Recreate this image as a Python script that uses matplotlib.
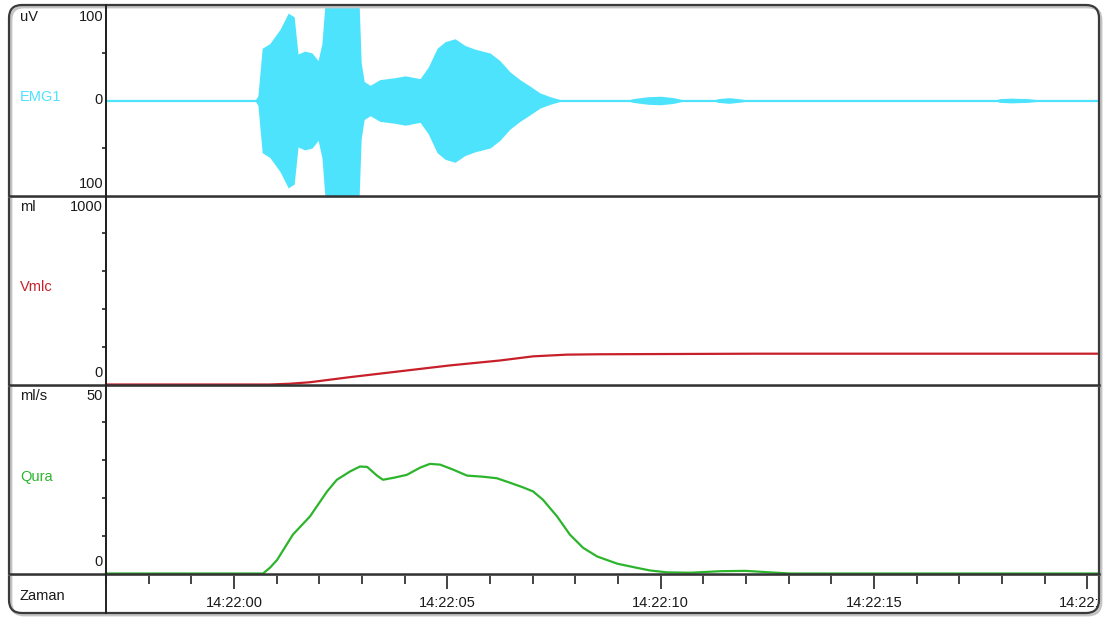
import datetime as dt

import matplotlib
matplotlib.use("Agg")
import matplotlib.pyplot as plt
from matplotlib.patches import FancyBboxPatch
from matplotlib.lines import Line2D
from matplotlib.transforms import IdentityTransform, Bbox, blended_transform_factory, offset_copy
from matplotlib.ticker import FixedLocator, MultipleLocator

# ---------------------------------------------------------------- data
# time axis: seconds relative to 14:22:00
start_clock = "14:22:00"
t_min, t_max = -3.0, 20.27

# EMG1 envelope (uV), drawn symmetric about zero
emg_t = [-3.0, 0.49, 0.56, 0.66, 0.84, 1.08, 1.27, 1.41, 1.50, 1.66, 1.83, 1.97,
         2.06, 2.18, 2.91, 2.98, 3.05, 3.19, 3.42, 3.77, 4.01, 4.36, 4.55, 4.76,
         4.95, 5.18, 5.41, 5.65, 6.00, 6.23, 6.47, 6.70, 6.94, 7.17, 7.41, 7.64,
         7.90, 9.20, 9.35, 9.70, 10.00, 10.30, 10.50, 10.70, 11.20, 11.35, 11.60,
         11.90, 12.05, 17.80, 17.95, 18.20, 18.60, 18.80, 18.95, 20.27]
emg_amp = [0, 0, 5, 55, 60, 75, 92, 88, 49, 52, 50, 42,
           60, 130, 130, 40, 20, 16, 22, 24, 26, 23, 35, 55,
           62, 65, 58, 54, 50, 42, 30, 22, 15, 8, 4, 1,
           0, 0, 2, 4, 4.5, 3, 1, 0, 0, 2, 3,
           1.5, 0, 0, 2, 2.5, 2, 1, 0, 0]

# Vmic volume (ml)
vmic_t = [-3.0, 0.38, 0.84, 1.31, 1.78, 2.72, 3.89, 5.06, 6.23, 7.01, 7.80, 8.58, 12.26, 20.27]
vmic_ml = [0, 0, 0, 4, 12, 39, 70, 101, 127, 149, 158, 160, 163, 163]

# Qura flow (ml/s)
qura_t = [-3.0, 0.68, 0.84, 1.01, 1.38, 1.78, 2.18, 2.41, 2.72, 2.95, 3.12, 3.35,
          3.49, 3.73, 4.05, 4.36, 4.59, 4.83, 5.13, 5.46, 5.84, 6.16, 6.47, 6.77,
          7.01, 7.24, 7.57, 7.87, 8.18, 8.51, 8.98, 9.44, 9.75, 10.15, 10.69,
          11.39, 11.98, 12.56, 13.03, 20.27]
qura_flow = [0, 0, 1.5, 3.6, 10.3, 15.1, 21.7, 24.8, 27.0, 28.3, 28.2, 25.9,
             24.8, 25.3, 26.1, 28.0, 29.0, 28.8, 27.5, 25.9, 25.6, 25.2, 24.0, 22.8,
             21.7, 19.5, 15.1, 10.3, 6.8, 4.5, 2.6, 1.5, 0.8, 0.3, 0.2,
             0.6, 0.7, 0.3, 0.0, 0.0]

channel_names = ["EMG1", "Vmlc", "Qura"]
channel_units = ["uV", "ml", "ml/s"]
channel_colors = ["#4ee3fd", "#c8202a", "#2cb52c"]
y_limits = [(-100, 100), (0, 1000), (0, 50)]
y_labels = [(["100", "0", "100"], [100, 0, -100]),
            (["1000", "0"], [1000, 0]),
            (["50", "0"], [50, 0])]
y_minor = [[-50, 50], [200, 400, 600, 800], [10, 20, 30, 40]]
major_step, minor_step = 5, 1

# ---------------------------------------------------------------- layout
W, H = 1105, 621
fig = plt.figure(figsize=(W / 100, H / 100), dpi=100)
fig.patch.set_facecolor("white")

FONT = ["Liberation Sans Narrow", "Liberation Sans", "DejaVu Sans"]
FS = 10.5
TXT = "#1a1a1a"

x_left, x_right = 106, 1099
panel_edges = [5.5, 195.5, 384.5, 573.5]


def fig_box(top, bottom):
    return [x_left / W, 1 - bottom / H, (x_right - x_left) / W, (bottom - top) / H]


axes = []
for i in range(3):
    ax = fig.add_axes(fig_box(panel_edges[i], panel_edges[i + 1]))
    ax.set_xlim(t_min, t_max)
    ax.set_ylim(*y_limits[i])
    ax.set_facecolor("none")
    for side in ("top", "right", "bottom"):
        ax.spines[side].set_visible(False)
    ax.spines["left"].set_color("#222222")
    ax.spines["left"].set_linewidth(1.4)
    ax.set_yticks([])
    ax.yaxis.set_minor_locator(FixedLocator(y_minor[i]))
    ax.tick_params(axis="y", which="minor", direction="out", length=3,
                   width=1.2, color="#222222", labelleft=False)
    ax.set_xticks([])
    axes.append(ax)

ax_emg, ax_vmic, ax_qura = axes

# EMG envelope
ax_emg.fill_between(emg_t, [-a for a in emg_amp], emg_amp,
                    color=channel_colors[0], linewidth=0, zorder=2)
ax_emg.plot([t_min, t_max], [0, 0], color=channel_colors[0], lw=1.6, zorder=3)

# Vmic volume
ax_vmic.plot(vmic_t, vmic_ml, color=channel_colors[1], lw=1.6, clip_on=False, zorder=4)

# Qura flow
ax_qura.plot(qura_t, qura_flow, color=channel_colors[2], lw=1.6, clip_on=False, zorder=4)

# time axis on the bottom panel
ax_qura.xaxis.set_major_locator(MultipleLocator(major_step))
ax_qura.xaxis.set_minor_locator(MultipleLocator(minor_step))
base = dt.datetime.strptime(start_clock, "%H:%M:%S")
ax_qura.xaxis.set_major_formatter(
    lambda v, pos: (base + dt.timedelta(seconds=v)).strftime("%H:%M:%S"))
ax_qura.tick_params(axis="x", which="major", direction="out", length=11, width=1.2,
                    color="#222222", pad=5, labelsize=FS, labelcolor=TXT)
ax_qura.tick_params(axis="x", which="minor", direction="out", length=7, width=1.2,
                    color="#222222")
clip = Bbox.from_extents(0, 0, x_right, H)
for lbl in ax_qura.get_xticklabels():
    lbl.set_family(FONT)
    lbl.set_clip_on(True)
    lbl.set_clip_box(clip)

# y value labels inside the label column
for ax, (texts, vals) in zip(axes, y_labels):
    tr = blended_transform_factory(fig.transFigure, ax.transData)
    lo, hi = ax.get_ylim()
    for txt, v in zip(texts, vals):
        if v == hi:
            va, dy = "top", -3
        elif v == lo:
            va, dy = "bottom", 3
        else:
            va, dy = "center", 0
        ax.text(103 / W, v, txt, transform=offset_copy(tr, fig=fig, y=dy, units="points"),
                ha="right", va=va, fontsize=FS, family=FONT, color=TXT)


def px(x, y):
    return x / W, 1 - y / H


unit_rows = [17, 207, 396]
name_rows = [97, 287, 477]
for unit, name, col, yu, yn in zip(channel_units, channel_names, channel_colors,
                                   unit_rows, name_rows):
    fig.text(*px(20, yu), unit, ha="left", va="center", fontsize=FS, family=FONT, color=TXT)
    fig.text(*px(20, yn), name, ha="left", va="center", fontsize=FS, family=FONT, color=col)
fig.text(*px(19, 596), "Zaman", ha="left", va="center", fontsize=FS, family=FONT, color=TXT)

# panel separators and outer frame (pixel coordinates)
pix = IdentityTransform()
for y in panel_edges[1:]:
    yy = H - y
    fig.add_artist(Line2D([9, x_right], [yy - 1.5, yy - 1.5], transform=pix,
                          color="#c8c8c8", lw=1.2))
    fig.add_artist(Line2D([9, x_right], [yy, yy], transform=pix,
                          color="#333333", lw=1.8))
fig.add_artist(Line2D([x_left, x_left], [H - 5, H - 613], transform=pix,
                      color="#222222", lw=1.4))

shadow = FancyBboxPatch((11, H - 615), x_right - 9, 608,
                        boxstyle="round,pad=0,rounding_size=13",
                        transform=pix, facecolor="none", edgecolor="#c4c4c4", lw=2.0)
frame = FancyBboxPatch((9, H - 613), x_right - 9, 608,
                       boxstyle="round,pad=0,rounding_size=13",
                       transform=pix, facecolor="none", edgecolor="#3a3a3a", lw=1.6)
fig.add_artist(shadow)
fig.add_artist(frame)

fig.savefig("out.png", dpi=100, facecolor="white")
